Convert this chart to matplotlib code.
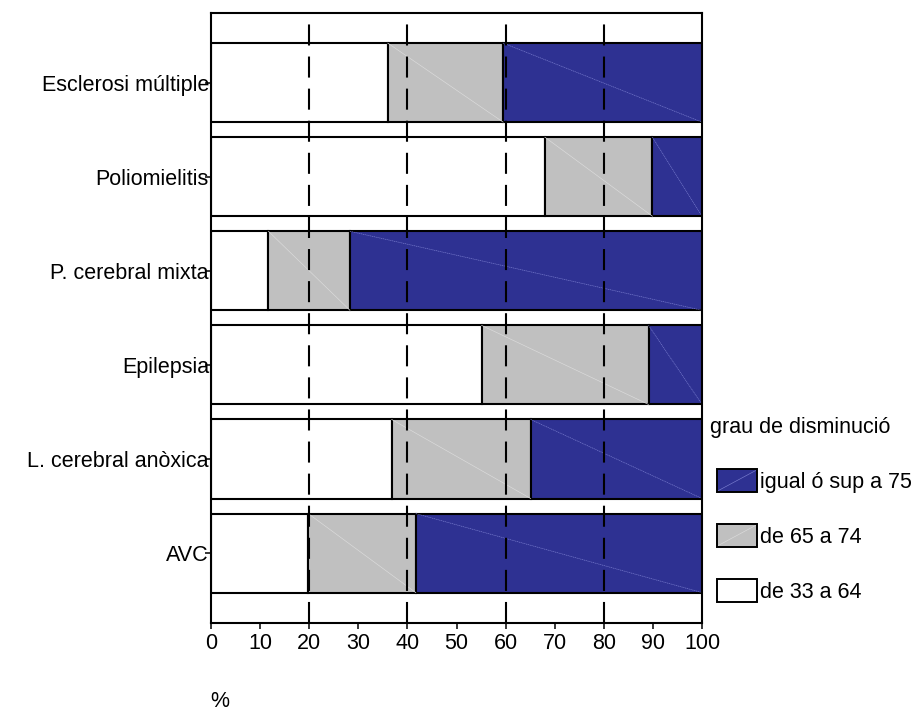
import numpy as np
import matplotlib
matplotlib.use("Agg")
import matplotlib.pyplot as plt
from matplotlib.patches import Rectangle
from matplotlib.lines import Line2D
from matplotlib.legend_handler import HandlerBase

categories = ['Esclerosi múltiple', 'Poliomielitis', 'P. cerebral mixta',
              'Epilepsia', 'L. cerebral anòxica', 'AVC']
# percentage per grade of disability
de_33_64 = [36.0, 68.0, 11.7, 55.1, 36.8, 19.8]
de_65_74 = [23.5, 21.9, 16.6, 34.0, 28.3, 21.9]
sup_75 = [40.5, 10.1, 71.7, 10.9, 34.9, 58.3]
series_labels = ['de 33 a 64', 'de 65 a 74', 'igual ó sup a 75']
x_ticks = [0, 10, 20, 30, 40, 50, 60, 70, 80, 90, 100]
grid_at = [20, 40, 60, 80]

colors = ['#ffffff', '#c0c0c0', '#2e3192']
diag_colors = [None, '#dcdcdc', '#7b7fd0']

plt.rcParams['font.family'] = ['Liberation Sans', 'DejaVu Sans']
fs = 15.5

fig = plt.figure(figsize=(9.19, 7.18), dpi=100)
ax = fig.add_axes([0.2296, 0.1327, 0.5343, 0.8492])

y = np.arange(len(categories))
h = 0.84
left = np.zeros(len(categories))
for vals, col, dcol, lab in zip([de_33_64, de_65_74, sup_75], colors, diag_colors, series_labels):
    vals = np.array(vals)
    ax.barh(y, vals, left=left, height=h, color=col, edgecolor='black', linewidth=1.5, label=lab, zorder=1)
    # thin diagonal artefacts across each coloured block
    if dcol is not None:
        for yi, l, v in zip(y, left, vals):
            ax.plot([l, l + v], [yi - h / 2, yi + h / 2], color=dcol, lw=0.45,
                    ls=(0, (2, 1)) if col == '#2e3192' else '-', zorder=1.5)
    left = left + vals

for g in grid_at:
    ax.axvline(g, color='black', lw=1.5, ls=(0, (10.1, 5.3)), zorder=3)

ax.set_xlim(0, 100)
ax.set_ylim(len(categories) - 1 + 0.74, -0.74)
ax.set_yticks(y)
ax.set_yticklabels(categories, fontsize=fs)
ax.set_xticks(x_ticks)
ax.set_xticklabels([str(t) for t in x_ticks], fontsize=fs)
ax.tick_params(axis='y', length=4.5, width=1.1, pad=-3)
ax.tick_params(axis='x', length=4.5, width=1.1, pad=3)
for s in ax.spines.values():
    s.set_linewidth(1.5)

ax.set_xlabel('%', fontsize=fs)
ax.xaxis.set_label_coords(0.018, -0.112)


class DiagHandler(HandlerBase):
    def __init__(self, diag):
        super().__init__()
        self.diag = diag

    def create_artists(self, legend, orig_handle, xdescent, ydescent, width, height, fontsize, trans):
        x0 = -xdescent + 5
        y0 = -ydescent
        w = width - 5
        fc = orig_handle.patches[0].get_facecolor()
        rect = Rectangle((x0, y0), w, height, facecolor=fc,
                         edgecolor='black', lw=1.4, transform=trans)
        arts = [rect]
        if self.diag is not None:
            arts.append(Line2D([x0 + 1, x0 + w - 1], [y0 + 1, y0 + height - 1],
                               color=self.diag, lw=0.45, transform=trans))
        return arts


handles, labels = ax.get_legend_handles_labels()
handles = handles[::-1]
labels = labels[::-1]
hmap = {hd: DiagHandler(dc) for hd, dc in zip(handles, diag_colors[::-1])}
leg = ax.legend(handles, labels, title='grau de disminució', loc='upper left',
                bbox_to_anchor=(710 / 919, 1 - 417 / 718), bbox_transform=fig.transFigure,
                frameon=False, fontsize=fs, title_fontsize=fs, alignment='left',
                handlelength=2.18, handleheight=1.25, handletextpad=0.14,
                labelspacing=1.45, borderpad=0, borderaxespad=0, handler_map=hmap)

fig.savefig('out.png', dpi=100)
